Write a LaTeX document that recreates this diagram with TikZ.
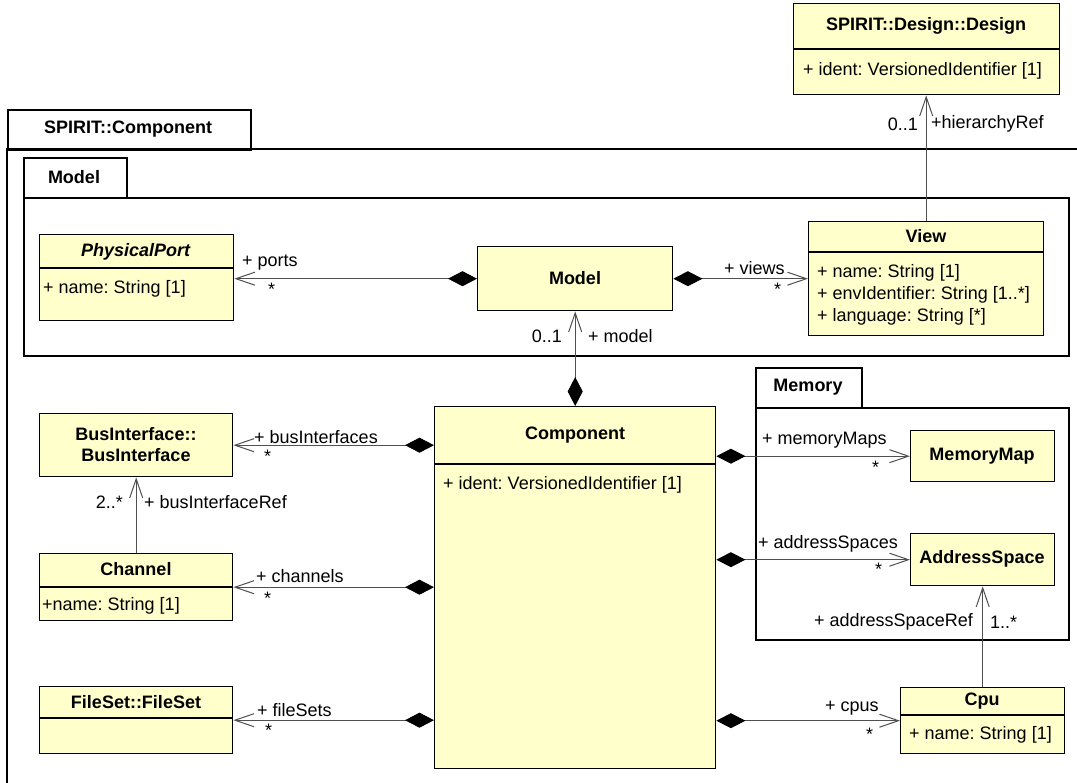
\documentclass[tikz,border=0pt]{standalone}
\usepackage{fontspec}
\setmainfont{Liberation Sans}
\usetikzlibrary{arrows.meta}
\definecolor{clsfill}{RGB}{255,255,204}
\definecolor{conn}{RGB}{80,80,80}
\frenchspacing
\begin{document}
\begin{tikzpicture}[x=1pt,y=-1pt,
  every node/.style={font=\fontsize{18}{21}\selectfont\frenchspacing, inner sep=0pt},
  cls/.style={draw=black, line width=1.4pt, fill=clsfill, anchor=north west, inner sep=0pt},
  pkg/.style={draw=black, line width=1.6pt, fill=white, anchor=north west, inner sep=0pt},
  pkgline/.style={draw=black, line width=1.6pt},
  divline/.style={draw=black, line width=1.4pt},
  ttl/.style={font=\fontsize{18}{21}\selectfont\bfseries\frenchspacing},
  attr/.style={anchor=west},
  lbl/.style={anchor=west},
  lblr/.style={anchor=east},
  comp/.style={draw=conn, line width=1pt, {Diamond[length=29pt,width=15pt,color=black,fill=black]}-{Straight Barb[length=19pt,width=13pt]}},
  nav/.style={draw=conn, line width=1pt, -{Straight Barb[length=19pt,width=13pt]}},
]
\useasboundingbox (0,0) rectangle (1077,783);
\fill[white] (0,0) rectangle (1077,783);

% outer package SPIRIT::Component
\node[pkg, minimum width=243pt, minimum height=40pt] (outertab) at (7,109) {};
\draw[pkgline] (7,783) -- (7,149) -- (1077,149);
\node[ttl] (outerT) at (128,129) {SPIRIT::Component};

% Model package
\node[pkg, minimum width=103pt, minimum height=40pt] (modeltab) at (23,157) {};
\node[pkg, minimum width=1045pt, minimum height=158pt] (modelpkg) at (23,197) {};
\node[ttl] (modeltabT) at (74,177) {Model};

% Memory package
\node[pkg, minimum width=106pt, minimum height=40pt] (memtab) at (755,367) {};
\node[pkg, minimum width=313pt, minimum height=232pt] (mempkg) at (755,407) {};
\node[ttl] (memtabT) at (808,387) {Memory};

% SPIRIT::Design::Design
\node[cls, minimum width=266pt, minimum height=91pt] (design) at (793,3) {};
\draw[divline] (793,49) -- (1059,49);
\node[ttl] (designT) at (926,26) {SPIRIT::Design::Design};
\node[attr] (designA) at (803,71) {+ ident: VersionedIdentifier [1]};

% PhysicalPort
\node[cls, minimum width=194pt, minimum height=86pt] (pport) at (39,234) {};
\draw[divline] (39,268) -- (233,268);
\node[ttl] (pportT) at (136,252) {\textit{PhysicalPort}};
\node[attr] (pportA) at (43,289) {+ name: String [1]};

% Model class
\node[cls, minimum width=195pt, minimum height=64pt] (model) at (477,246) {};
\node[ttl] (modelT) at (575,278) {Model};

% View
\node[cls, minimum width=235pt, minimum height=114pt] (view) at (808,221) {};
\draw[divline] (808,252) -- (1043,252);
\node[ttl] (viewT) at (926,236) {View};
\node[attr] (viewA1) at (817,273) {+ name: String [1]};
\node[attr] (viewA2) at (817,295) {+ envIdentifier: String [1..*]};
\node[attr] (viewA3) at (817,317) {+ language: String [*]};

% Component
\node[cls, minimum width=281pt, minimum height=362pt] (comp) at (434,406) {};
\draw[divline] (434,464) -- (715,464);
\node[ttl] (compT) at (575,435) {Component};
\node[attr] (compA) at (443,485) {+ ident: VersionedIdentifier [1]};

% BusInterface
\node[cls, minimum width=193pt, minimum height=63pt] (bus) at (39,413) {};
\node[ttl, align=center] (busT) at (136,445) {BusInterface::\\BusInterface};

% Channel
\node[cls, minimum width=193pt, minimum height=67pt] (chan) at (39,553) {};
\draw[divline] (39,587) -- (232,587);
\node[ttl] (chanT) at (136,569) {Channel};
\node[attr] (chanA) at (42,606) {+name: String [1]};

% FileSet
\node[cls, minimum width=193pt, minimum height=67pt] (fs) at (39,686) {};
\draw[divline] (39,718) -- (232,718);
\node[ttl] (fsT) at (136,702) {FileSet::FileSet};

% MemoryMap
\node[cls, minimum width=144pt, minimum height=51pt] (mm) at (910,430) {};
\node[ttl] (mmT) at (982,456) {MemoryMap};

% AddressSpace
\node[cls, minimum width=144pt, minimum height=52pt] (as) at (910,533) {};
\node[ttl] (asT) at (982,559) {AddressSpace};

% Cpu
\node[cls, minimum width=164pt, minimum height=66pt] (cpu) at (900,687) {};
\draw[divline] (900,715) -- (1064,715);
\node[ttl] (cpuT) at (982,701) {Cpu};
\node[attr] (cpuA) at (909,735) {+ name: String [1]};

% connectors
\draw[nav] (view.north) -- (view.north |- design.south);
\draw[comp] (model.west) -- (pport.east |- model.west);
\draw[comp] (model.east) -- (view.west |- model.east);
\draw[comp] (comp.north) -- (model.south);
\draw[comp] (comp.west |- bus.east) -- (bus.east);
\draw[nav] (chan.north) -- (bus.south);
\draw[comp] (comp.west |- chan.east) -- (chan.east);
\draw[comp] (comp.west |- fs.east) -- (fs.east);
\draw[comp] (comp.east |- mm.west) -- (mm.west);
\draw[comp] (comp.east |- as.west) -- (as.west);
\draw[comp] (comp.east |- cpu.west) -- (cpu.west);
\draw[nav] (cpu.north) -- (as.south);

% labels
\node[lblr] (l1a) at (918,124) {0..1};
\node[lbl] (l1b) at (931,124) {+hierarchyRef};
\node[lbl] (l2a) at (242,263) {+ ports};
\node[lbl] (l2b) at (268,289) {*};
\node[lbl] (l3a) at (724,268) {+ views};
\node[lbl] (l3b) at (774,289) {*};
\node[lblr] (l4a) at (562,336) {0..1};
\node[lbl] (l4b) at (588,336) {+ model};
\node[lbl] (l5a) at (254,437) {+ busInterfaces};
\node[lbl] (l5b) at (264,456) {*};
\node[lblr] (l6a) at (123,502) {2..*};
\node[lbl] (l6b) at (144,502) {+ busInterfaceRef};
\node[lbl] (l7a) at (256,576) {+ channels};
\node[lbl] (l7b) at (264,598) {*};
\node[lbl] (l8a) at (257,710) {+ fileSets};
\node[lbl] (l8b) at (265,730) {*};
\node[lbl] (l9a) at (762,440) {+ memoryMaps};
\node[lbl] (l9b) at (872,467) {*};
\node[lbl] (l10a) at (758,544) {+ addressSpaces};
\node[lbl] (l10b) at (875,569) {*};
\node[lbl] (l11a) at (825,708) {+ cpus};
\node[lbl] (l11b) at (866,734) {*};
\node[lblr] (l12a) at (973,622) {+ addressSpaceRef};
\node[lbl] (l12b) at (990,622) {1..*};
\end{tikzpicture}
\end{document}
